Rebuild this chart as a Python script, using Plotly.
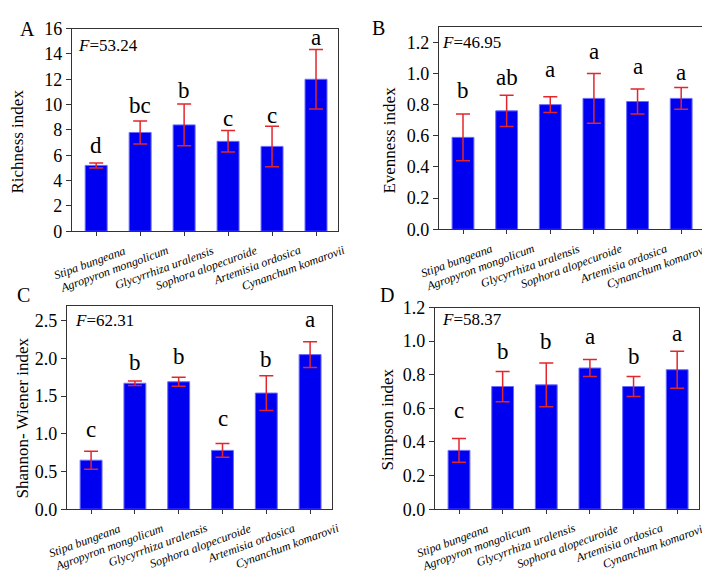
import plotly.graph_objects as go

species = ["Stipa bungeana", "Agropyron mongolicum", "Glycyrrhiza uralensis",
           "Sophora alopecuroide", "Artemisia ordosica", "Cynanchum komarovii"]

richness = [5.2, 7.8, 8.4, 7.1, 6.7, 12.0]
richness_se = [0.2, 0.9, 1.65, 0.85, 1.6, 2.35]
richness_letters = ["d", "bc", "b", "c", "c", "a"]
richness_letter_y = [6.75, 9.94, 11.08, 8.92, 9.17, 15.29]

evenness = [0.59, 0.76, 0.80, 0.84, 0.82, 0.84]
evenness_se = [0.15, 0.10, 0.05, 0.16, 0.08, 0.07]
evenness_letters = ["b", "ab", "a", "a", "a", "a"]
evenness_letter_y = [0.89, 0.977, 1.024, 1.138, 1.045, 1.008]

shannon = [0.65, 1.67, 1.69, 0.78, 1.54, 2.05]
shannon_se = [0.12, 0.03, 0.06, 0.09, 0.23, 0.17]
shannon_letters = ["c", "b", "b", "c", "b", "a"]
shannon_letter_y = [1.06, 1.944, 2.03, 1.205, 1.987, 2.513]

simpson = [0.35, 0.73, 0.74, 0.84, 0.73, 0.83]
simpson_se = [0.07, 0.09, 0.13, 0.05, 0.06, 0.11]
simpson_letters = ["c", "b", "b", "a", "b", "a"]
simpson_letter_y = [0.59, 0.939, 0.996, 1.025, 0.91, 1.044]

f_values = ["53.24", "46.95", "62.31", "58.37"]
panel_labels = ["A", "B", "C", "D"]
y_titles = ["Richness index", "Evenness index", "Shannon- Wiener index", "Simpson index"]

W, H = 710, 572
FONT = "Liberation Serif"
AXC = "#333333"


def px(x):
    return x / W


def py(y):
    return 1 - y / H


# panel geometry in pixels: (left, right, top, bottom)
boxes = [(64, 330, 11, 221), (431, 695, 9, 219), (59, 324, 298, 509), (427, 691, 300, 509)]
yranges = [[0, 16], [0, 1.3], [0, 2.7], [0, 1.2]]
ydticks = [2, 0.2, 0.5, 0.2]
yformats = ["d", ".1f", ".1f", ".1f"]
title_pos = [(10, 128), (382, 126), (14, 415), (379, 416)]
label_pos = [(19, 11), (370, 10), (15, 287), (379, 287)]
f_off = [(4, 17), (1, 16), (6, 15), (5, 12)]

series = [
    (richness, richness_se, richness_letters, richness_letter_y),
    (evenness, evenness_se, evenness_letters, evenness_letter_y),
    (shannon, shannon_se, shannon_letters, shannon_letter_y),
    (simpson, simpson_se, simpson_letters, simpson_letter_y),
]

fig = go.Figure()
annotations = []
layout = {}

for i, (vals, se, letters, ly) in enumerate(series):
    n = "" if i == 0 else str(i + 1)
    xa, ya = "x" + n, "y" + n
    l, r, t, b = boxes[i]
    fig.add_trace(go.Bar(
        x=species, y=vals, xaxis=xa, yaxis=ya, width=0.5,
        marker=dict(color="#0000F0", line=dict(color="#6B6BFF", width=1)),
        error_y=dict(type="data", array=se, visible=True, color="#E3262B",
                     thickness=1.5, width=7),
        showlegend=False,
    ))
    layout["xaxis" + n] = dict(
        domain=[px(l), px(r)], anchor=ya, type="category",
        range=[-0.55, 5.5], showticklabels=False,
        ticks="outside", ticklen=4, tickwidth=1.2, tickcolor=AXC,
        showline=True, linecolor=AXC, linewidth=1.3, mirror=True,
        showgrid=False, zeroline=False, fixedrange=True,
    )
    layout["yaxis" + n] = dict(
        domain=[py(b), py(t)], anchor=xa, range=yranges[i],
        tick0=0, dtick=ydticks[i], tickformat=yformats[i],
        ticks="outside", ticklen=5, tickwidth=1.2, tickcolor=AXC,
        showline=True, linecolor=AXC, linewidth=1.3, mirror=True,
        showgrid=False, zeroline=False,
        tickfont=dict(family=FONT, size=18, color="black"),
    )
    # significance letters
    for s, let, yy in zip(species, letters, ly):
        annotations.append(dict(
            x=s, y=yy, xref=xa, yref=ya, text=let, showarrow=False,
            font=dict(family=FONT, size=23, color="black"),
            xanchor="center", yanchor="middle",
        ))
    # rotated category labels
    for s in species:
        annotations.append(dict(
            x=s, y=py(b + 11), xref=xa, yref="paper", text="<i>" + s + "</i>",
            showarrow=False, textangle=-20, xanchor="right", yanchor="top",
            xshift=32, borderpad=0, font=dict(family=FONT, size=12, color="black"),
        ))
    # F statistic
    annotations.append(dict(
        x=px(l + f_off[i][0]), y=py(t + f_off[i][1]), xref="paper", yref="paper",
        text="<i>F</i>=" + f_values[i], showarrow=False, xanchor="left", yanchor="middle",
        font=dict(family=FONT, size=17, color="black"),
    ))
    # axis title
    annotations.append(dict(
        x=px(title_pos[i][0]), y=py(title_pos[i][1]), xref="paper", yref="paper",
        text=y_titles[i], showarrow=False, textangle=-90,
        xanchor="center", yanchor="middle",
        font=dict(family=FONT, size=17, color="black"),
    ))
    # panel label
    annotations.append(dict(
        x=px(label_pos[i][0]), y=py(label_pos[i][1]), xref="paper", yref="paper",
        text=panel_labels[i], showarrow=False, xanchor="center", yanchor="middle",
        font=dict(family=FONT, size=20, color="black"),
    ))

fig.update_layout(
    width=W, height=H, margin=dict(l=0, r=0, t=0, b=0),
    paper_bgcolor="white", plot_bgcolor="white",
    font=dict(family=FONT, color="black"),
    annotations=annotations, bargap=0.5,
    **layout,
)

fig.write_html("out.html")
